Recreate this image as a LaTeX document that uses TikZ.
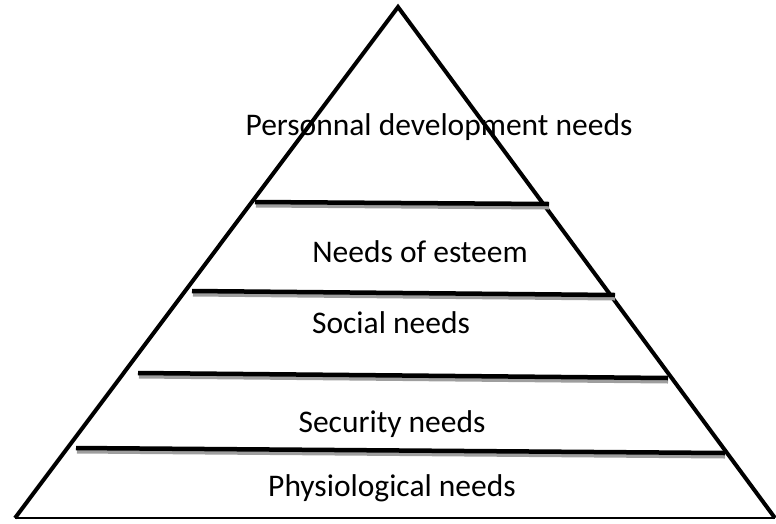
\documentclass[tikz,border=0pt]{standalone}
\usepackage{fontspec}
\setmainfont{Carlito}
\usepackage{tikz}
\usepackage{xcolor}
\tikzset{
    pyramid-edge/.style = {draw=black, line width=4pt, line join=miter},
    level-line/.style = {draw=black, line width=4.5pt},
    level-shadow/.style = {draw=black!38, line width=4pt},
    level-label/.style = {anchor=base, inner sep=0pt, font=\fontsize{31.5}{38}\selectfont},
}
\begin{document}
\begin{tikzpicture}[x=1pt, y=-1pt]
\useasboundingbox (0,0) rectangle (776,523);
\coordinate (apex) at (398,7);
\coordinate (base-left) at (15,518);
\coordinate (base-right) at (775,518);
\draw[pyramid-edge] (base-left) -- (apex) -- (base-right);
\draw[draw=black, line width=1.5pt] (base-left) -- (base-right);

\foreach \xa/\ya/\xb/\yb in {255/202/549/204, 192/291/615/295, 138/373/668/378, 76/448/725/453}{
    \draw[level-shadow] (\xa+1,\ya+3.5) -- (\xb,\yb+3.5);
    \draw[level-line] (\xa,\ya) -- (\xb,\yb);
}

\node[level-label] (personal) at (439,135) {Personnal development needs};
\node[level-label] (esteem) at (420,262) {Needs of esteem};
\node[level-label] (social) at (391,333) {Social needs};
\node[level-label] (security) at (392,432) {Security needs};
\node[level-label] (physio) at (392,496) {Physiological needs};
\end{tikzpicture}
\end{document}
